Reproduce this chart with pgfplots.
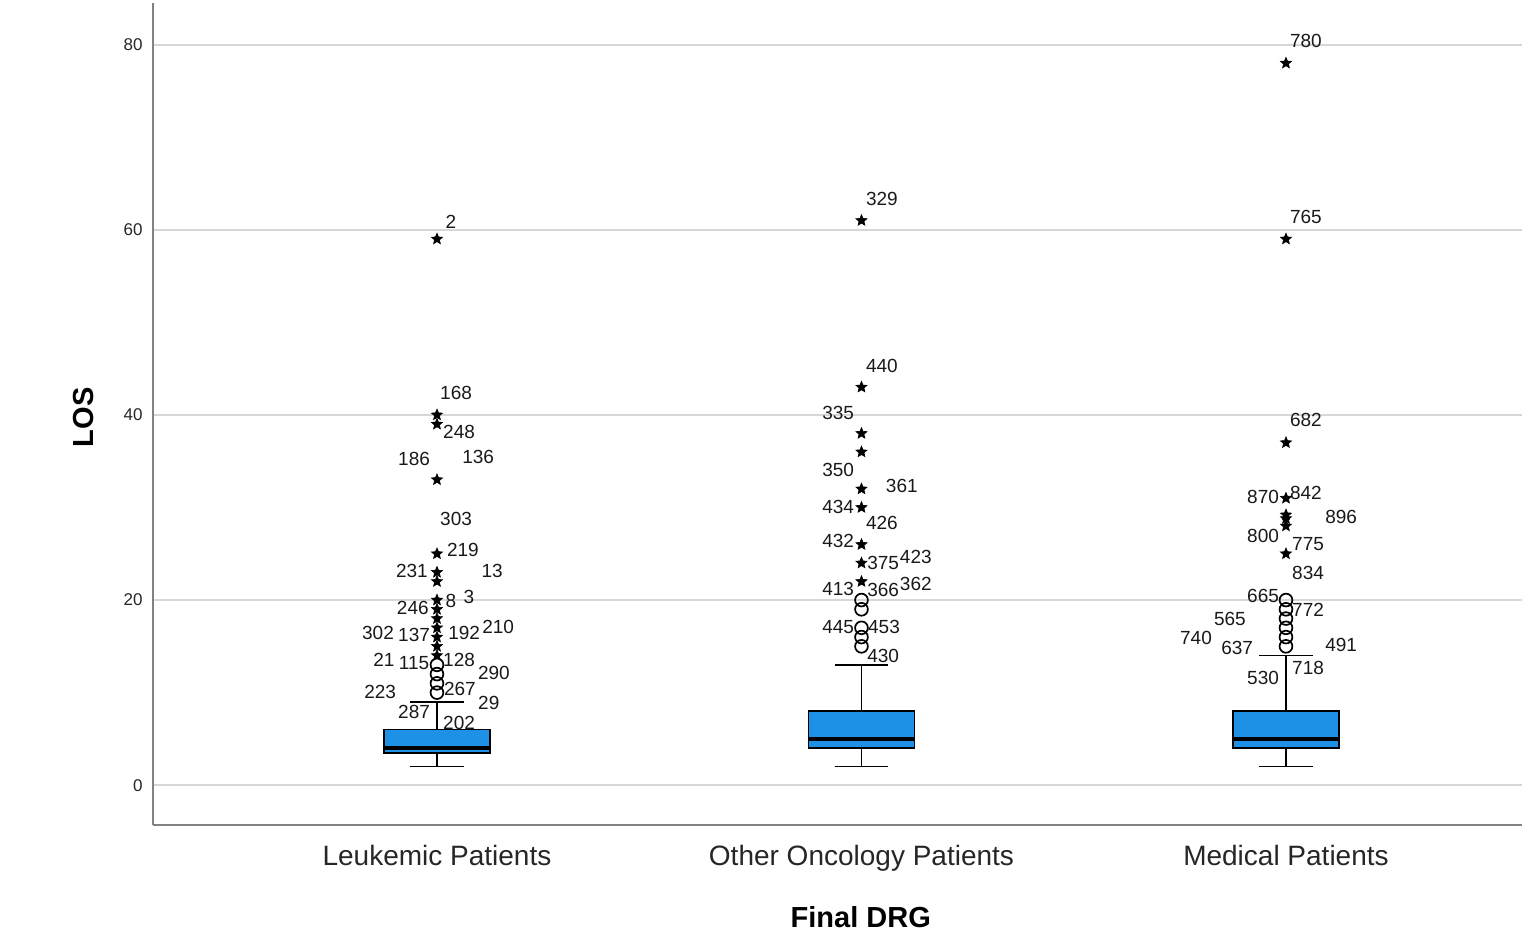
\documentclass[border=0pt]{standalone}
\usepackage{fontspec}
\setmainfont{Liberation Sans}
\usepackage{pgfplots}
\pgfplotsset{compat=1.18}
\usepgfplotslibrary{statistics}
\definecolor{boxblue}{RGB}{30,144,230}
\definecolor{gridgray}{RGB}{215,215,215}
\definecolor{axgray}{RGB}{130,130,130}
\tikzset{lab/.style={font=\fontsize{9.5}{11}\selectfont, inner sep=0pt, anchor=center, text=black!90}}
\pgfdeclareplotmark{fstar}{%
  \pgfpathmoveto{\pgfpointpolar{90}{\pgfplotmarksize}}%
  \pgfpathlineto{\pgfpointpolar{126}{0.45\pgfplotmarksize}}%
  \pgfpathlineto{\pgfpointpolar{162}{\pgfplotmarksize}}%
  \pgfpathlineto{\pgfpointpolar{198}{0.45\pgfplotmarksize}}%
  \pgfpathlineto{\pgfpointpolar{234}{\pgfplotmarksize}}%
  \pgfpathlineto{\pgfpointpolar{270}{0.45\pgfplotmarksize}}%
  \pgfpathlineto{\pgfpointpolar{306}{\pgfplotmarksize}}%
  \pgfpathlineto{\pgfpointpolar{342}{0.45\pgfplotmarksize}}%
  \pgfpathlineto{\pgfpointpolar{18}{\pgfplotmarksize}}%
  \pgfpathlineto{\pgfpointpolar{54}{0.45\pgfplotmarksize}}%
  \pgfpathclose
  \pgfusepathqfillstroke}
\begin{document}
\begin{tikzpicture}
\begin{axis}[
  name=ax,
  at={(0,0)}, anchor=south west,
  scale only axis, width=684.5pt, height=411pt,
  xmin=-0.669, xmax=2.556, ymin=-4.3, ymax=84.5,
  axis x line=bottom, axis y line=left,
  axis line style={-, axgray, line width=0.9pt},
  xtick={0,1,2},
  xticklabels={Leukemic Patients, Other Oncology Patients, Medical Patients},
  ytick={0,20,40,60,80},
  major tick length=0pt,
  ymajorgrids, grid style={gridgray, line width=0.9pt},
  /pgf/number format/assume math mode=true,
  yticklabel style={font=\fontsize{8.5}{10}\selectfont, inner sep=0pt, xshift=-5pt, text=black!85},
  xticklabel style={font=\fontsize{14}{16}\selectfont, inner sep=0pt, anchor=north, yshift=-10pt, text=black!85},
  xlabel={\textbf{Final DRG}},
  ylabel={\textbf{LOS}},
  xlabel style={at={(axis description cs:0.517,-0.112)}, anchor=center, font=\fontsize{14.5}{16}\selectfont},
  ylabel style={at={(axis description cs:-0.0511,0.496)}, anchor=center, font=\fontsize{14.5}{16}\selectfont},
  boxplot/draw direction=y,
  boxplot/every median/.style={line width=1.7pt, black},
]
% boxes
\addplot+[boxplot prepared={draw position=0, lower whisker=2, lower quartile=3.5, median=4, upper quartile=6, upper whisker=9, box extend=0.25, whisker extend=0.125}, fill=boxblue, draw=black, line width=0.8pt, solid, mark=none] coordinates {};
\addplot+[boxplot prepared={draw position=1, lower whisker=2, lower quartile=4, median=5, upper quartile=8, upper whisker=13, box extend=0.25, whisker extend=0.125}, fill=boxblue, draw=black, line width=0.8pt, solid, mark=none] coordinates {};
\addplot+[boxplot prepared={draw position=2, lower whisker=2, lower quartile=4, median=5, upper quartile=8, upper whisker=14, box extend=0.25, whisker extend=0.125}, fill=boxblue, draw=black, line width=0.8pt, solid, mark=none] coordinates {};
% mild outliers (circles)
\addplot[only marks, mark=o, mark size=3.2pt, line width=0.85pt, black] coordinates {
 (0,10) (0,11) (0,12) (0,13)
 (1,15) (1,16) (1,17) (1,19) (1,20)
 (2,15) (2,16) (2,17) (2,18) (2,19) (2,20)
};
% extreme outliers (stars)
\addplot[only marks, mark=fstar, mark size=2.9pt, line width=0.3pt, black, fill=black] coordinates {
 (0,59) (0,40) (0,39) (0,33) (0,25) (0,23) (0,22) (0,20) (0,19) (0,18) (0,17) (0,16) (0,15) (0,14)
 (1,61) (1,43) (1,38) (1,36) (1,32) (1,30) (1,26) (1,24) (1,22)
 (2,78) (2,59) (2,37) (2,31) (2,29.2) (2,28.8) (2,28) (2,25)
};
% case labels - Leukemic
\node[lab] at (axis cs:0.033,60.86) {2};
\node[lab] at (axis cs:0.045,42.38) {168};
\node[lab] at (axis cs:0.052,38.16) {248};
\node[lab] at (axis cs:-0.054,35.24) {186};
\node[lab] at (axis cs:0.097,35.46) {136};
\node[lab] at (axis cs:0.045,28.76) {303};
\node[lab] at (axis cs:0.061,25.41) {219};
\node[lab] at (axis cs:-0.059,23.14) {231};
\node[lab] at (axis cs:0.130,23.14) {13};
\node[lab] at (axis cs:-0.057,19.14) {246};
\node[lab] at (axis cs:0.033,19.89) {8};
\node[lab] at (axis cs:0.075,20.32) {3};
\node[lab] at (axis cs:-0.139,16.43) {302};
\node[lab] at (axis cs:-0.054,16.22) {137};
\node[lab] at (axis cs:0.064,16.43) {192};
\node[lab] at (axis cs:0.144,17.08) {210};
\node[lab] at (axis cs:-0.125,13.51) {21};
\node[lab] at (axis cs:-0.054,13.19) {115};
\node[lab] at (axis cs:0.052,13.51) {128};
\node[lab] at (axis cs:0.134,12.11) {290};
\node[lab] at (axis cs:-0.134,10.05) {223};
\node[lab] at (axis cs:0.054,10.38) {267};
\node[lab] at (axis cs:0.122,8.86) {29};
\node[lab] at (axis cs:-0.054,7.89) {287};
\node[lab] at (axis cs:0.052,6.70) {202};
% Other Oncology
\node[lab] at (axis cs:1.048,63.35) {329};
\node[lab] at (axis cs:1.048,45.30) {440};
\node[lab] at (axis cs:0.945,40.22) {335};
\node[lab] at (axis cs:0.945,34.05) {350};
\node[lab] at (axis cs:1.095,32.32) {361};
\node[lab] at (axis cs:0.945,30.05) {434};
\node[lab] at (axis cs:1.048,28.32) {426};
\node[lab] at (axis cs:0.945,26.38) {432};
\node[lab] at (axis cs:1.051,24.00) {375};
\node[lab] at (axis cs:1.128,24.65) {423};
\node[lab] at (axis cs:0.945,21.19) {413};
\node[lab] at (axis cs:1.051,21.08) {366};
\node[lab] at (axis cs:1.128,21.73) {362};
\node[lab] at (axis cs:0.945,17.08) {445};
\node[lab] at (axis cs:1.053,17.08) {453};
\node[lab] at (axis cs:1.051,13.95) {430};
% Medical
\node[lab] at (axis cs:2.047,80.43) {780};
\node[lab] at (axis cs:2.047,61.41) {765};
\node[lab] at (axis cs:2.047,39.46) {682};
\node[lab] at (axis cs:1.946,31.14) {870};
\node[lab] at (axis cs:2.047,31.57) {842};
\node[lab] at (axis cs:2.130,28.97) {896};
\node[lab] at (axis cs:1.946,26.92) {800};
\node[lab] at (axis cs:2.052,26.05) {775};
\node[lab] at (axis cs:2.052,22.92) {834};
\node[lab] at (axis cs:1.946,20.43) {665};
\node[lab] at (axis cs:2.052,18.92) {772};
\node[lab] at (axis cs:1.868,17.95) {565};
\node[lab] at (axis cs:1.788,15.89) {740};
\node[lab] at (axis cs:1.885,14.81) {637};
\node[lab] at (axis cs:2.130,15.14) {491};
\node[lab] at (axis cs:2.052,12.65) {718};
\node[lab] at (axis cs:1.946,11.57) {530};
\end{axis}
\pgfresetboundingbox
\path ([shift={(-76.5pt,-54.5pt)}]ax.south west) rectangle ([shift={(0pt,1.5pt)}]ax.north east);
\end{tikzpicture}
\end{document}
